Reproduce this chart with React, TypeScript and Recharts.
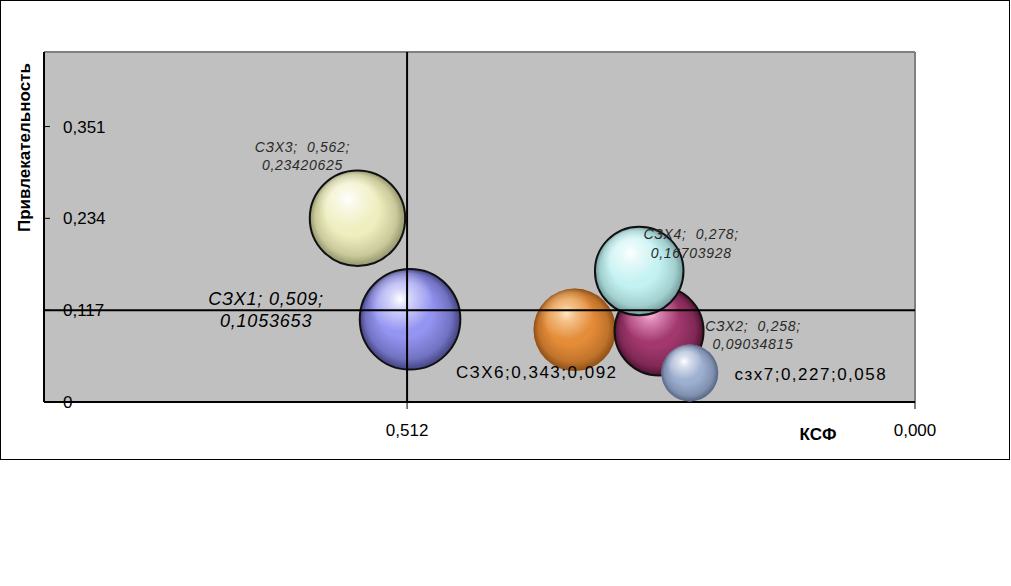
import React from 'react';
import {
  ScatterChart,
  Scatter,
  XAxis,
  YAxis,
  ZAxis,
  CartesianGrid,
  ReferenceLine,
  Customized,
} from 'recharts';

// стратегические зоны хозяйствования, в порядке отрисовки
const names = ['СЗХ1', 'СЗХ3', 'СЗХ6', 'СЗХ2', 'СЗХ4', 'сзх7'];
const ksf = [0.509, 0.562, 0.343, 0.258, 0.278, 0.227];
const attractiveness = [0.1053653, 0.23420625, 0.092, 0.09034815, 0.16703928, 0.037];
const bubbleSize = [25.3, 22.75, 17, 19.8, 19.6, 8.1];
const labelLines = [
  ['СЗХ1; 0,509;', '0,1053653'],
  ['СЗХ3;  0,562;', '0,23420625'],
  ['СЗХ6;0,343;0,092'],
  ['СЗХ2;  0,258;', '0,09034815'],
  ['СЗХ4;  0,278;', '0,16703928'],
  ['сзх7;0,227;0,058'],
];
const xTicks = [0.512, 0];
const yTicks = [0, 0.117, 0.234, 0.351];
const xMax = 0.878;
const yMax = 0.446;
const xCross = 0.512;
const yCross = 0.117;

const FONT = '"Liberation Sans", Arial, sans-serif';

const spheres = [
  { light: '#FFFFFF', base: '#9494F2', dark: '#34346C', outline: true },
  { light: '#FFFFFF', base: '#EEEEBE', dark: '#84845C', outline: true },
  { light: '#FFE6C0', base: '#E48C38', dark: '#7C4412', outline: false },
  { light: '#FFB8E0', base: '#A2386E', dark: '#420C28', outline: true },
  { light: '#FFFFFF', base: '#C4F2F2', dark: '#648C8C', outline: true },
  { light: '#FFFFFF', base: '#9EB0D0', dark: '#4A5876', outline: false },
];

// смещение подписи от центра пузыря
const labelLayout = [
  { dx: -144, dy: [-14, 8], size: 18, italic: true, color: '#000', spacing: 0.8 },
  { dx: -55, dy: [-66, -48], size: 14, italic: true, color: '#2a2a2a', spacing: 0.7 },
  { dx: -38, dy: [48.5], size: 17, italic: false, color: '#000', spacing: 1.5 },
  { dx: 94, dy: [0, 18], size: 14, italic: true, color: '#2a2a2a', spacing: 0.7 },
  { dx: 52, dy: [-32, -13], size: 14, italic: true, color: '#2a2a2a', spacing: 0.7 },
  { dx: 121, dy: [7], size: 17, italic: false, color: '#000', spacing: 1.5 },
];

const series = names.map((name, i) => [
  { name, i, x: ksf[i], y: attractiveness[i], z: bubbleSize[i] },
]);

const fmtX = (v: number) => v.toFixed(3).replace('.', ',');
const fmtY = (v: number) => (v === 0 ? '0' : v.toFixed(3).replace('.', ','));

function Sphere(props: any) {
  const { cx, cy, payload } = props;
  const i = payload.i;
  const r = props.width ? props.width / 2 : Math.sqrt((props.size || 0) / Math.PI);
  const s = spheres[i];
  const l = labelLayout[i];
  const hi = `sphere-hi-${i}`;
  const sh = `sphere-sh-${i}`;
  return (
    <g>
      <defs>
        <radialGradient id={hi} cx="0.4" cy="0.3" r="0.5">
          <stop offset="0" stopColor={s.light} stopOpacity={1} />
          <stop offset="0.2" stopColor={s.light} stopOpacity={0.6} />
          <stop offset="0.65" stopColor={s.light} stopOpacity={0} />
        </radialGradient>
        <radialGradient id={sh} cx="0.5" cy="0.5" r="0.5" fx="0.38" fy="0.3">
          <stop offset="0" stopColor={s.dark} stopOpacity={0} />
          <stop offset="0.55" stopColor={s.dark} stopOpacity={0} />
          <stop offset="0.85" stopColor={s.dark} stopOpacity={0.35} />
          <stop offset="1" stopColor={s.dark} stopOpacity={0.85} />
        </radialGradient>
      </defs>
      <circle cx={cx} cy={cy} r={r} fill={s.base} />
      <circle cx={cx} cy={cy} r={r} fill={`url(#${sh})`} />
      <circle cx={cx} cy={cy} r={r} fill={`url(#${hi})`} />
      {s.outline && <circle cx={cx} cy={cy} r={r} fill="none" stroke="#111" strokeWidth={2} />}
      {labelLines[i].map((line, k) => (
        <text
          key={k}
          x={cx + l.dx}
          y={cy + l.dy[k]}
          textAnchor="middle"
          fontFamily={FONT}
          fontSize={l.size}
          fontStyle={l.italic ? 'italic' : 'normal'}
          fill={l.color}
          letterSpacing={l.spacing}
          style={{ whiteSpace: 'pre' }}
        >
          {line}
        </text>
      ))}
    </g>
  );
}

function Titles() {
  return (
    <g fontFamily={FONT} fontWeight="bold" fontSize={17} fill="#000">
      <text transform="translate(30,147.5) rotate(-90)" textAnchor="middle">
        Привлекательность
      </text>
      <text x={818} y={440} textAnchor="middle">
        КСФ
      </text>
    </g>
  );
}

export default function App() {
  return (
    <div style={{ position: 'absolute', left: 0, top: 0, width: 1011, height: 586, background: '#fff' }}>
      <div
        style={{
          position: 'absolute',
          left: 0,
          top: 0,
          width: 1010,
          height: 460,
          border: '1px solid #000',
          boxSizing: 'border-box',
        }}
      />
      <div style={{ position: 'absolute', left: 0, top: 0 }}>
        <ScatterChart width={1010} height={460} margin={{ top: 52, right: 95, bottom: 28, left: 44 }}>
          <CartesianGrid fill="#C0C0C0" horizontal={false} vertical={false} />
          <XAxis
            type="number"
            dataKey="x"
            domain={[0, xMax]}
            reversed
            ticks={xTicks}
            interval={0}
            tickFormatter={fmtX}
            height={30}
            tickSize={7}
            tickMargin={15}
            axisLine={{ stroke: '#000', strokeWidth: 2 }}
            tickLine={{ stroke: '#000', strokeWidth: 1 }}
            tick={{ fill: '#000', fontSize: 17, fontFamily: FONT }}
          />
          <YAxis
            type="number"
            dataKey="y"
            domain={[0, yMax]}
            ticks={yTicks}
            interval={0}
            mirror
            tickFormatter={fmtY}
            tickSize={6}
            tickMargin={13}
            axisLine={{ stroke: '#000', strokeWidth: 2 }}
            tickLine={{ stroke: '#000', strokeWidth: 1 }}
            tick={{ fill: '#000', fontSize: 17, fontFamily: FONT }}
          />
          <ZAxis type="number" dataKey="z" domain={[0, 30]} range={[0, 30 * 100 * Math.PI]} />
          <ReferenceLine y={yMax} stroke="#808080" strokeWidth={2} />
          <ReferenceLine x={0} stroke="#808080" strokeWidth={2} />
          {series.map((data, i) => (
            <Scatter
              key={names[i]}
              name={names[i]}
              data={data}
              shape={(p: any) => <Sphere {...p} />}
              isAnimationActive={false}
            />
          ))}
          <ReferenceLine x={xCross} stroke="#000" strokeWidth={2} zIndex={700} />
          <ReferenceLine y={yCross} stroke="#000" strokeWidth={2} zIndex={700} />
          <Customized component={<Titles />} />
        </ScatterChart>
      </div>
    </div>
  );
}
